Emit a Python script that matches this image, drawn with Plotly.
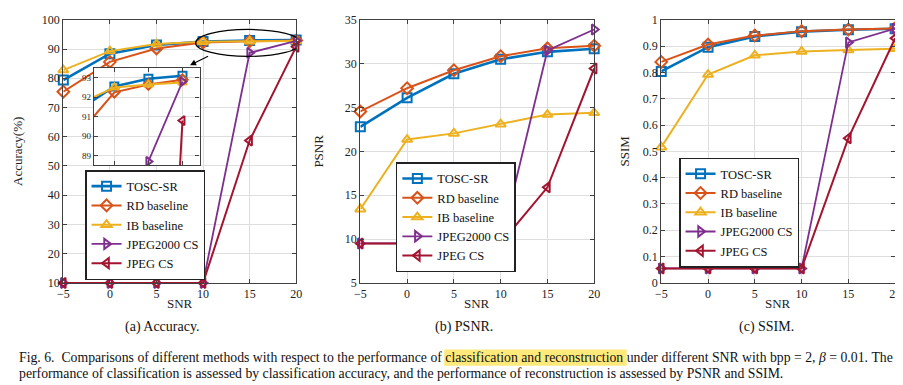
import plotly.graph_objects as go

snr = [-5, 0, 5, 10, 15, 20]
methods = ["TOSC-SR", "RD baseline", "IB baseline", "JPEG2000 CS", "JPEG CS"]
colors = ["#0072BD", "#D95319", "#EDB120", "#7E2F8E", "#A2142F"]
symbols = ["square-open", "diamond-open", "triangle-up-open", "triangle-right-open", "triangle-left-open"]
widths = [2.6, 2.0, 2.0, 1.8, 2.0]

acc_tosc = [79.4, 88.4, 91.4, 92.55, 92.95, 93.1]
acc_rd = [75.4, 85.6, 90.2, 92.25, 92.65, 92.9]
acc_ib = [82.8, 89.3, 91.7, 92.5, 92.65, 92.75]
acc_j2k = [10, 10, 10, 10, 88.7, 92.8]
acc_jpeg = [10, 10, 10, 10, 58.7, 90.8]

psnr_tosc = [22.8, 26.1, 28.85, 30.5, 31.35, 31.7]
psnr_rd = [24.55, 27.2, 29.25, 30.85, 31.75, 32.05]
psnr_ib = [13.4, 21.35, 22.05, 23.1, 24.2, 24.4]
psnr_j2k = [9.5, 9.5, 9.5, 9.5, 31.5, 33.9]
psnr_jpeg = [9.5, 9.5, 9.5, 9.5, 15.9, 29.45]

ssim_tosc = [0.804, 0.896, 0.937, 0.955, 0.962, 0.966]
ssim_rd = [0.84, 0.906, 0.94, 0.957, 0.963, 0.967]
ssim_ib = [0.516, 0.792, 0.865, 0.88, 0.885, 0.89]
ssim_j2k = [0.055, 0.055, 0.055, 0.055, 0.914, 0.967]
ssim_jpeg = [0.055, 0.055, 0.055, 0.055, 0.55, 0.93]

acc = [acc_tosc, acc_rd, acc_ib, acc_j2k, acc_jpeg]
psnr = [psnr_tosc, psnr_rd, psnr_ib, psnr_j2k, psnr_jpeg]
ssim = [ssim_tosc, ssim_rd, ssim_ib, ssim_j2k, ssim_jpeg]

W, H = 903, 385
def px(x):
    return x / W
def py(y):
    return 1 - y / H

SERIF = "Liberation Serif, Times New Roman, serif"
fig = go.Figure()

panels = [
    (acc, "x", "y", "legend"),
    (psnr, "x2", "y2", "legend2"),
    (ssim, "x3", "y3", "legend3"),
]
for data, xa, ya, lg in panels:
    for i, m in enumerate(methods):
        fig.add_trace(go.Scatter(
            x=snr, y=data[i], name=m, mode="lines+markers",
            xaxis=xa, yaxis=ya, legend=lg, cliponaxis=False,
            line=dict(color=colors[i], width=widths[i]),
            marker=dict(symbol=symbols[i], size=9, color=colors[i],
                        line=dict(color=colors[i], width=2)),
        ))

# inset
for i, m in enumerate(methods):
    fig.add_trace(go.Scatter(
        x=snr, y=acc[i], name=m, mode="lines+markers", showlegend=False,
        xaxis="x4", yaxis="y4", cliponaxis=True,
        line=dict(color=colors[i], width=widths[i]),
        marker=dict(symbol=symbols[i], size=8, color=colors[i],
                    line=dict(color=colors[i], width=2)),
    ))

axis_common = dict(
    showgrid=True, gridcolor="#DEDEDE", gridwidth=1,
    showline=True, linecolor="#404040", linewidth=1.2, mirror="ticks",
    ticks="inside", ticklen=4, tickcolor="#404040",
    tickfont=dict(family=SERIF, size=12, color="#222"),
    zeroline=False, ticklabeloverflow="allow",
)
xdomains = [(px(50), px(286)), (px(351), px(588)), (px(656), px(893))]
ydom = (py(278), py(5))
yranges = [(10, 100, 10), (5, 35, 5), (0, 1, 0.1)]
ytitles = ["Accuracy(%)", "PSNR", "SSIM"]
ystand = [16, 18, 10]
layout = {}
for k in range(3):
    sx = "" if k == 0 else str(k + 1)
    layout["xaxis" + sx] = dict(axis_common, domain=list(xdomains[k]), anchor="y" + sx,
                                range=[-5, 20], dtick=5, tick0=-5)
    lo, hi, dt = yranges[k]
    layout["yaxis" + sx] = dict(axis_common, domain=list(ydom), anchor="x" + sx,
                                range=[lo, hi], dtick=dt, tick0=lo,
                                title=dict(text=ytitles[k], font=dict(family=SERIF, size=13, color="#222"),
                                           standoff=ystand[k]))
layout["yaxis3"]["tickformat"] = "~g"

layout["xaxis4"] = dict(axis_common, domain=[px(81), px(188)], anchor="y4",
                        range=[7, 22.5], tickvals=[10, 15, 20],
                        tickfont=dict(family=SERIF, size=9, color="#222"))
layout["yaxis4"] = dict(axis_common, domain=[py(156), py(55)], anchor="x4",
                        range=[88.5, 93.5], tickvals=[89, 90, 91, 92, 93],
                        tickfont=dict(family=SERIF, size=9, color="#222"))

leg_common = dict(
    bgcolor="white", bordercolor="#222", borderwidth=1.5,
    font=dict(family=SERIF, size=12.5, color="#111"),
    xanchor="left", tracegroupgap=0, itemwidth=30,
)
layout["legend"] = dict(leg_common, x=px(72), y=py(275), yanchor="bottom")
layout["legend2"] = dict(leg_common, x=px(387), y=py(153), yanchor="top")
layout["legend3"] = dict(leg_common, x=px(674), y=py(148), yanchor="top")

fig.update_layout(**layout)

# x-axis titles (placed tight under tick labels as in the reference)
for k, (d0, d1) in enumerate(xdomains):
    fig.add_annotation(xref="paper", yref="paper", x=(d0 + d1) / 2, y=py(299), text="SNR", showarrow=False,
                       font=dict(family=SERIF, size=13, color="#222"), xanchor="center", yanchor="middle")

# ellipse and arrow in panel (a)
fig.add_shape(type="circle", xref="x", yref="y", x0=9.2, x1=20.5, y0=87.5, y1=96.7,
              line=dict(color="black", width=1.2))
fig.add_annotation(xref="x", yref="y", axref="x", ayref="y", x=8.6, y=84.5, ax=10.7, ay=87.8,
                   showarrow=True, arrowhead=2, arrowsize=1, arrowwidth=1.2, arrowcolor="black", text="")

# sub captions
for txt, cx in [("(a) Accuracy.", 150), ("(b) PSNR.", 456), ("(c) SSIM.", 763)]:
    fig.add_annotation(xref="paper", yref="paper", x=px(cx), y=py(324), text=txt, showarrow=False,
                       font=dict(family=SERIF, size=14, color="#111"), xanchor="center", yanchor="middle")

# caption highlight
fig.add_shape(type="rect", xref="paper", yref="paper", x0=px(436), x1=px(621), y0=py(364), y1=py(347),
              fillcolor="#FFE97A", line=dict(width=0), layer="below")
cap1 = ("Fig. 6.  Comparisons of different methods with respect to the performance of classification and reconstruction "
        "under different SNR with bpp = 2, <i>β</i> = 0.01. The")
cap2 = ("performance of classification is assessed by classification accuracy, and the performance of reconstruction "
        "is assessed by PSNR and SSIM.")
fig.add_annotation(xref="paper", yref="paper", x=px(3), y=py(355), text=cap1, showarrow=False,
                   font=dict(family=SERIF, size=13.75, color="#111"), xanchor="left", yanchor="middle")
fig.add_annotation(xref="paper", yref="paper", x=px(3), y=py(372), text=cap2, showarrow=False,
                   font=dict(family=SERIF, size=13.75, color="#111"), xanchor="left", yanchor="middle")

fig.update_layout(width=W, height=H, margin=dict(l=0, r=0, t=0, b=0), autosize=False,
                  font=dict(family=SERIF, color="#111"),
                  paper_bgcolor="white", plot_bgcolor="white")
fig.write_html("out.html")
